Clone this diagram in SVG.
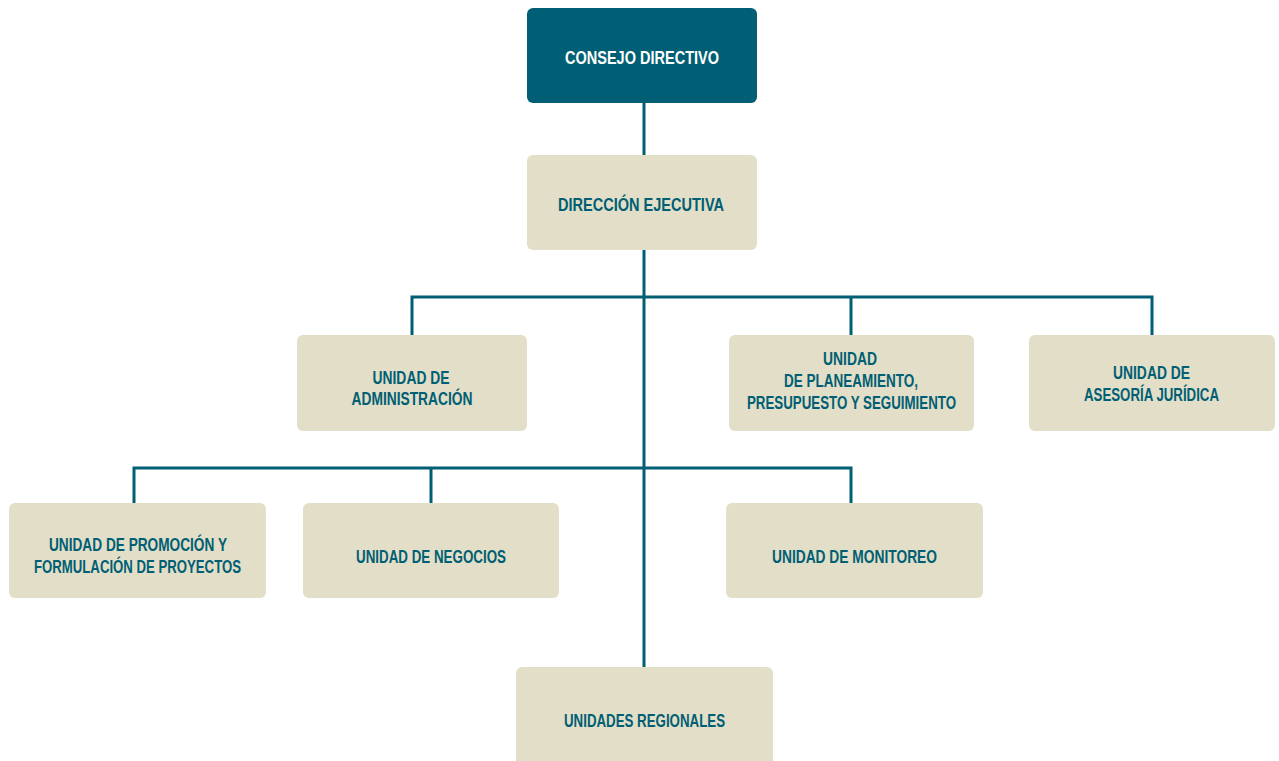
<svg xmlns="http://www.w3.org/2000/svg" width="1279" height="761" viewBox="0 0 1279 761">
<style>
.box{fill:#e3dec7;}
.top{fill:#005f74;}
.t{font-family:"Liberation Sans",Arial,sans-serif;font-weight:bold;font-size:19px;fill:#005f74;text-anchor:middle;}
.w{fill:#ffffff;}
.c{stroke:#005f74;stroke-width:3;fill:none;}
</style>
<rect width="1279" height="761" fill="#ffffff"/>
<g id="connectors">
<line class="c" x1="644" y1="103" x2="644" y2="155"/>
<line class="c" x1="644" y1="250" x2="644" y2="667"/>
<polyline class="c" points="412,335 412,297 1152,297 1152,335"/>
<line class="c" x1="851" y1="297" x2="851" y2="335"/>
<polyline class="c" points="134,503 134,468 851,468 851,503"/>
<line class="c" x1="431" y1="468" x2="431" y2="503"/>
</g>
<g id="consejo">
<rect class="top" x="527" y="8" width="230" height="95" rx="6"/>
<text class="t w" x="642" y="64" textLength="154" lengthAdjust="spacingAndGlyphs">CONSEJO DIRECTIVO</text>
</g>
<g id="direccion">
<rect class="box" x="527" y="155" width="230" height="95" rx="6"/>
<text class="t" x="641" y="211" textLength="166" lengthAdjust="spacingAndGlyphs">DIRECCIÓN EJECUTIVA</text>
</g>
<g id="administracion">
<rect class="box" x="297" y="335" width="230" height="96" rx="6"/>
<text class="t" x="411" y="384" textLength="77" lengthAdjust="spacingAndGlyphs">UNIDAD DE</text>
<text class="t" x="412" y="405" textLength="121" lengthAdjust="spacingAndGlyphs">ADMINISTRACIÓN</text>
</g>
<g id="planeamiento">
<rect class="box" x="729" y="335" width="245" height="96" rx="6"/>
<text class="t" x="850" y="365" textLength="54" lengthAdjust="spacingAndGlyphs">UNIDAD</text>
<text class="t" x="851" y="387" textLength="134" lengthAdjust="spacingAndGlyphs">DE PLANEAMIENTO,</text>
<text class="t" x="851.5" y="409" textLength="209" lengthAdjust="spacingAndGlyphs">PRESUPUESTO Y SEGUIMIENTO</text>
</g>
<g id="asesoria">
<rect class="box" x="1029" y="335" width="246" height="96" rx="6"/>
<text class="t" x="1151.5" y="379" textLength="77" lengthAdjust="spacingAndGlyphs">UNIDAD DE</text>
<text class="t" x="1151.5" y="401" textLength="135" lengthAdjust="spacingAndGlyphs">ASESORÍA JURÍDICA</text>
</g>
<g id="promocion">
<rect class="box" x="9" y="503" width="257" height="95" rx="6"/>
<text class="t" x="138" y="551" textLength="178" lengthAdjust="spacingAndGlyphs">UNIDAD DE PROMOCIÓN Y</text>
<text class="t" x="137.5" y="573" textLength="207" lengthAdjust="spacingAndGlyphs">FORMULACIÓN DE PROYECTOS</text>
</g>
<g id="negocios">
<rect class="box" x="303" y="503" width="256" height="95" rx="6"/>
<text class="t" x="431" y="563" textLength="150" lengthAdjust="spacingAndGlyphs">UNIDAD DE NEGOCIOS</text>
</g>
<g id="monitoreo">
<rect class="box" x="726" y="503" width="257" height="95" rx="6"/>
<text class="t" x="854.5" y="563" textLength="165" lengthAdjust="spacingAndGlyphs">UNIDAD DE MONITOREO</text>
</g>
<g id="regionales">
<rect class="box" x="516" y="667" width="257" height="100" rx="6"/>
<text class="t" x="644.5" y="727" textLength="161" lengthAdjust="spacingAndGlyphs">UNIDADES REGIONALES</text>
</g>
</svg>
